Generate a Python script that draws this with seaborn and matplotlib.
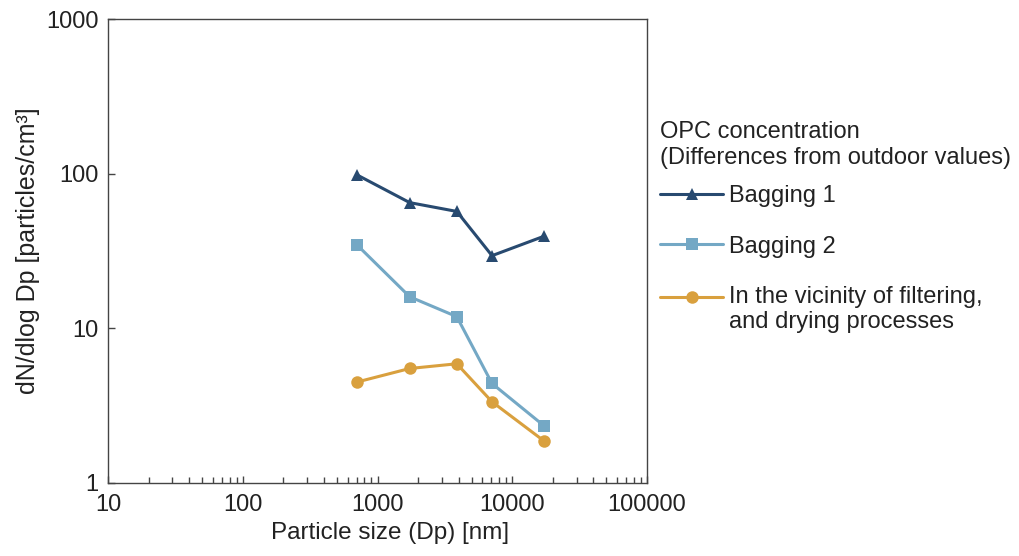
import matplotlib
matplotlib.use("Agg")
import matplotlib.pyplot as plt
import seaborn as sns
import pandas as pd
from matplotlib.ticker import LogLocator, FixedLocator, FixedFormatter, NullLocator
from matplotlib.legend_handler import HandlerLine2D

sizes = [707, 1732, 3873, 7071, 17320]
bagging1 = [98, 65, 57, 29.5, 39.5]
bagging2 = [34.5, 16.0, 11.9, 4.4, 2.33]
vicinity = [4.5, 5.5, 5.9, 3.35, 1.86]
series_names = ["Bagging 1", "Bagging 2",
                "In the vicinity of filtering,\nand drying processes"]
x_ticks = [10, 100, 1000, 10000, 100000]
y_ticks = [1, 10, 100, 1000]

rows = []
for name, vals in zip(series_names, [bagging1, bagging2, vicinity]):
    for s, v in zip(sizes, vals):
        rows.append({"size": s, "value": v, "series": name})
df = pd.DataFrame(rows)

sns.set_theme(style="white")
plt.rcParams["font.family"] = ["Liberation Sans", "DejaVu Sans"]

fig = plt.figure(figsize=(10.19, 5.56), dpi=100)
ax = fig.add_axes([0.106, 0.1313, 0.529, 0.8345])

palette = {series_names[0]: "#284a70", series_names[1]: "#74a8c5",
           series_names[2]: "#d9a03e"}
markers = {series_names[0]: "^", series_names[1]: "s", series_names[2]: "o"}

sns.lineplot(data=df, x="size", y="value", hue="series", style="series",
             palette=palette, markers=markers, dashes=False, linewidth=2.2,
             markersize=9, markeredgewidth=0, ax=ax, legend=True)

ax.set_xscale("log")
ax.set_yscale("log")
ax.set_xlim(10, 100000)
ax.set_ylim(1, 1000)

ax.xaxis.set_major_locator(FixedLocator(x_ticks))
ax.xaxis.set_major_formatter(FixedFormatter([str(t) for t in x_ticks]))
ax.xaxis.set_minor_locator(LogLocator(base=10, subs=range(2, 10)))
ax.yaxis.set_major_locator(FixedLocator(y_ticks))
ax.yaxis.set_major_formatter(FixedFormatter([str(t) for t in y_ticks]))
ax.yaxis.set_minor_locator(NullLocator())

for sp in ax.spines.values():
    sp.set_color("#444444")
    sp.set_linewidth(1.0)

ax.tick_params(axis="both", which="major", direction="in", length=5,
               width=1, color="#444444", labelsize=17, labelcolor="#222222",
               bottom=True, left=True, top=False, right=False)
ax.tick_params(axis="x", which="major", pad=8)
ax.tick_params(axis="y", which="major", pad=7)
ax.tick_params(axis="x", which="minor", direction="in", length=4, width=1,
               color="#444444", bottom=True, top=False)

ax.set_xlabel("Particle size (Dp) [nm]", fontsize=17.5, color="#222222", labelpad=8)
ax.xaxis.set_label_coords(0.523, -0.083)
ax.set_ylabel("dN/dlog Dp [particles/cm³]", fontsize=18, color="#222222", labelpad=4)


class TopLineHandler(HandlerLine2D):
    """Place the legend handle on the first line of a two-line label."""
    def __init__(self, dy=0, **kw):
        super().__init__(**kw)
        self.dy = dy

    def create_artists(self, legend, orig_handle, xdescent, ydescent, width,
                       height, fontsize, trans):
        return super().create_artists(legend, orig_handle, xdescent,
                                      ydescent - self.dy, width, height,
                                      fontsize, trans)


handles, labels = ax.get_legend_handles_labels()
leg = ax.legend(handles, labels,
                title="OPC concentration\n(Differences from outdoor values)",
                loc="upper left", bbox_to_anchor=(1.006, 0.8), frameon=False,
                fontsize=17, title_fontsize=17, handlelength=2.7,
                labelspacing=1.2, borderaxespad=0, handletextpad=0.25,
                handler_map={handles[2]: TopLineHandler(dy=18)})
leg._legend_box.align = "left"
leg._legend_box.sep = 12
for t in leg.get_texts():
    t.set_color("#222222")
leg.get_title().set_color("#222222")

fig.savefig("out.png", dpi=100)
